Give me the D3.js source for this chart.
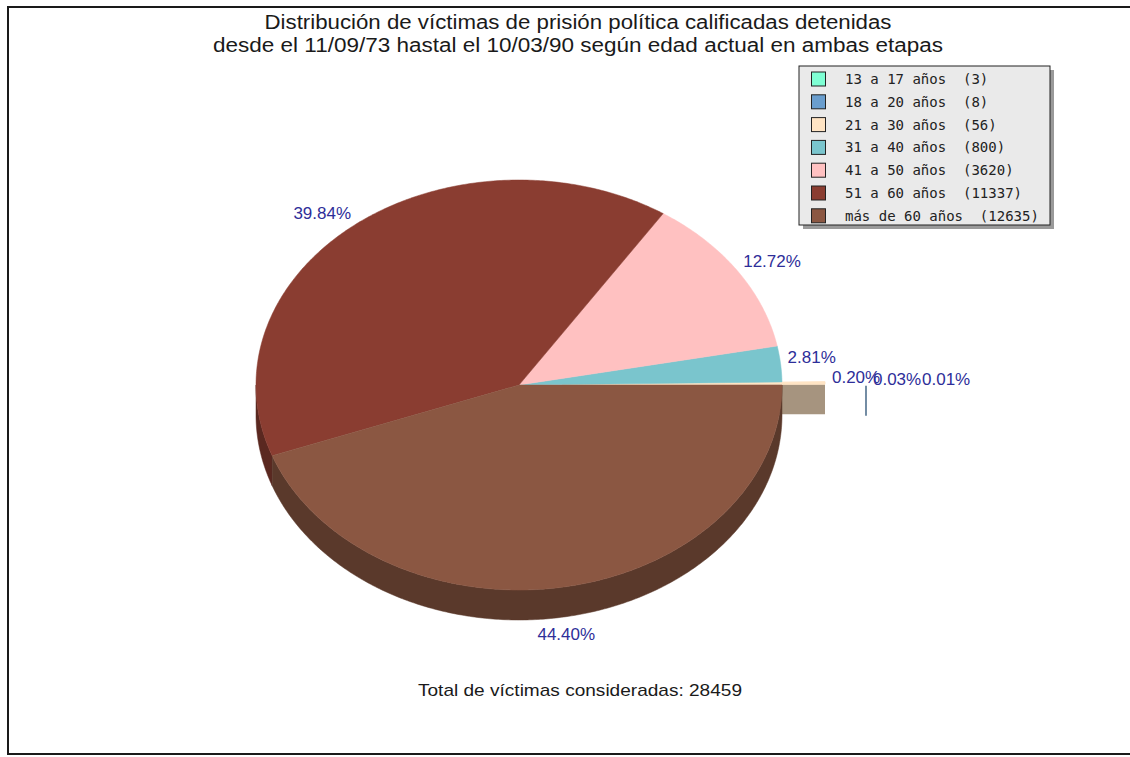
<!DOCTYPE html>
<html>
<head>
<meta charset="utf-8">
<script src="https://cdn.jsdelivr.net/npm/d3@7"></script>
<style>
  html, body { margin: 0; padding: 0; background: #fff; }
  svg { display: block; }
</style>
</head>
<body>
<svg id="chart" width="1130" height="757"></svg>
<script>
const titleLines = [
  "Distribución de víctimas de prisión política calificadas detenidas",
  "desde el 11/09/73 hastal el 10/03/90 según edad actual en ambas etapas"
];
const categories = ["13 a 17 años", "18 a 20 años", "21 a 30 años", "31 a 40 años", "41 a 50 años", "51 a 60 años", "más de 60 años"];
const values = [3, 8, 56, 800, 3620, 11337, 12635];
const colors = ["#7FFFD4", "#6A9ECE", "#FFE4C4", "#7AC5CD", "#FFC1C1", "#8A3D31", "#8B5742"];
const explode = [133, 84, 43, 0, 0, 0, 0];
const footerLabel = "Total de víctimas consideradas: ";

const svg = d3.select("#chart");
const total = d3.sum(values);

// frame
svg.append("rect").attr("x", 8).attr("y", 7).attr("width", 1140).attr("height", 747)
  .attr("fill", "#fff").attr("stroke", "#1a1a1a").attr("stroke-width", 2);

// title
const titleWidths = [627, 730];
const title = svg.append("text").attr("text-anchor", "middle")
  .attr("font-family", "Liberation Sans, Arial, sans-serif").attr("font-size", 20).attr("fill", "#1a1a1a");
titleLines.forEach((t, i) => {
  title.append("tspan").attr("x", 578).attr("y", 29 + i * 23)
    .attr("textLength", titleWidths[i]).attr("lengthAdjust", "spacingAndGlyphs").text(t);
});

// pie geometry
const cx = 519, cy = 385, rx = 263, ry = 205, depth = 30;
const pie = d3.pie().sort(null).startAngle(0).endAngle(2 * Math.PI);
const arcs = pie(values).map((d, i) => {
  const mid = (d.startAngle + d.endAngle) / 2;
  return Object.assign(d, {
    i, mid,
    ox: explode[i] * Math.cos(mid),
    oy: -explode[i] * Math.sin(mid) * ry / rx
  });
});
const pt = (a, ox, oy, dz) => [cx + ox + rx * Math.cos(a), cy + oy - ry * Math.sin(a) + (dz || 0)];
const sample = (a0, a1) => {
  const n = Math.max(2, Math.ceil(Math.abs(a1 - a0) / 0.01));
  return d3.range(n + 1).map(k => a0 + (a1 - a0) * k / n);
};
const line = d3.line();
const dark = c => { const r = d3.rgb(c); return d3.rgb(r.r * 0.65, r.g * 0.65, r.b * 0.65).formatHex(); };

function topPath(d) {
  const pts = [[cx + d.ox, cy + d.oy]].concat(sample(d.startAngle, d.endAngle).map(a => pt(a, d.ox, d.oy)));
  return line(pts) + "Z";
}
function sidePath(d) {
  const a0 = Math.max(d.startAngle, Math.PI), a1 = Math.min(d.endAngle, 2 * Math.PI);
  if (a1 <= a0) return null;
  const s = sample(a0, a1);
  const pts = s.map(a => pt(a, d.ox, d.oy)).concat(s.slice().reverse().map(a => pt(a, d.ox, d.oy, depth)));
  return line(pts) + "Z";
}
function radialWall(d) {
  const a = d.startAngle;
  const c0 = [cx + d.ox, cy + d.oy], r0 = pt(a, d.ox, d.oy);
  return line([c0, r0, [r0[0], r0[1] + depth], [c0[0], c0[1] + depth]]) + "Z";
}

const gPie = svg.append("g");
const sweepDeg = d => (d.endAngle - d.startAngle) * 180 / Math.PI;

// exploded tiny slices (behind main pie)
const small = arcs.filter(d => explode[d.i] > 0);
small.forEach(d => {
  if (sweepDeg(d) > 0.5) {
    gPie.append("path").attr("d", radialWall(d)).attr("fill", dark(colors[d.i]));
    gPie.append("path").attr("d", topPath(d)).attr("fill", colors[d.i])
      .attr("stroke", colors[d.i]).attr("stroke-width", 1);
  } else if (sweepDeg(d) > 0.05) {
    const r0 = pt(d.startAngle, d.ox, d.oy);
    gPie.append("line").attr("x1", r0[0]).attr("x2", r0[0]).attr("y1", r0[1] + 1).attr("y2", r0[1] + depth + 1)
      .attr("stroke", dark(colors[d.i])).attr("stroke-width", 1.5);
  }
});

// main pie sides
const big = arcs.filter(d => explode[d.i] === 0);
big.forEach(d => {
  const p = sidePath(d);
  if (p) gPie.append("path").attr("d", p).attr("fill", dark(colors[d.i]))
    .attr("stroke", dark(colors[d.i])).attr("stroke-width", 0.5);
});
// main pie tops
big.forEach(d => {
  gPie.append("path").attr("d", topPath(d)).attr("fill", colors[d.i])
    .attr("stroke", colors[d.i]).attr("stroke-width", 0.5);
});

// labels
const fmt = d3.format(".2f");
arcs.forEach(d => {
  const c = Math.cos(d.mid), s = Math.sin(d.mid);
  let [x, y] = pt(d.mid, d.ox, d.oy);
  if (s < 0) y += depth;
  x += 7 * c; y -= 7 * s;
  const anchor = c > 0.3 ? "start" : (c < -0.3 ? "end" : "middle");
  svg.append("text").attr("x", x).attr("y", y)
    .attr("dy", s < 0 ? "0.95em" : "0")
    .attr("text-anchor", anchor)
    .attr("font-family", "Liberation Sans, Arial, sans-serif").attr("font-size", 17)
    .attr("fill", "#2E2E99")
    .text(fmt(d.value / total * 100) + "%");
});

// legend
const lg = svg.append("g");
const lx = 799, ly = 66, lw = 251, lh = 159, step = 22.8;
lg.append("rect").attr("x", lx + 4).attr("y", ly + 4).attr("width", lw).attr("height", lh).attr("fill", "#9a9a9a");
lg.append("rect").attr("x", lx).attr("y", ly).attr("width", lw).attr("height", lh)
  .attr("fill", "#EAEAEA").attr("stroke", "#222").attr("stroke-width", 1);
categories.forEach((cat, i) => {
  const yc = ly + 13 + i * step;
  lg.append("rect").attr("x", 811.5).attr("y", yc - 7).attr("width", 14).attr("height", 14)
    .attr("fill", colors[i]).attr("stroke", "#222").attr("stroke-width", 1);
  lg.append("text").attr("x", 845).attr("y", yc + 5)
    .attr("font-family", "DejaVu Sans Mono, monospace").attr("font-size", 14)
    .attr("fill", "#222").style("white-space", "pre")
    .text(cat + "  (" + values[i] + ")");
});

// footer
svg.append("text").attr("x", 580).attr("y", 696).attr("text-anchor", "middle")
  .attr("font-family", "Liberation Sans, Arial, sans-serif").attr("font-size", 17).attr("fill", "#1a1a1a")
  .attr("textLength", 324).attr("lengthAdjust", "spacingAndGlyphs")
  .text(footerLabel + total);
</script>
</body>
</html>
